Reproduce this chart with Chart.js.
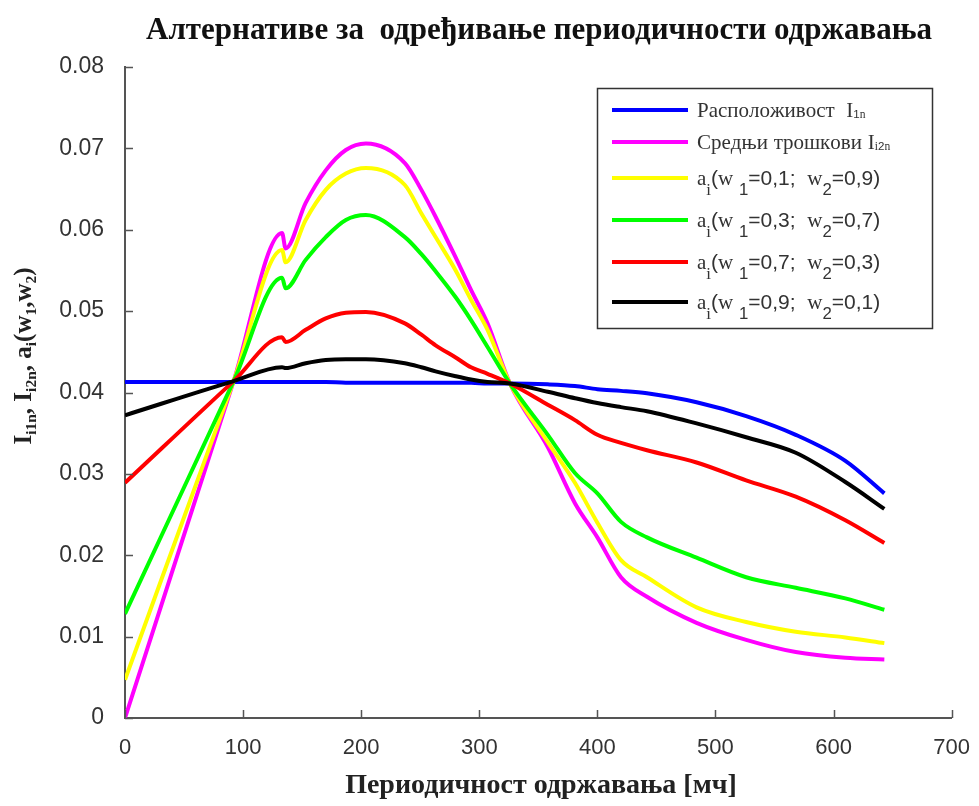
<!DOCTYPE html>
<html>
<head>
<meta charset="utf-8">
<script src="https://cdn.jsdelivr.net/npm/chart.js"></script>
<style>
  html, body { margin: 0; padding: 0; background: #fff; }
  #wrap { width: 979px; height: 806px; }
</style>
</head>
<body>
<div id="wrap"><canvas id="c" width="979" height="806"></canvas></div>
<script>
// периодичност одржавања [мч]
const periods = [0, 92, 133, 136, 153, 170, 187, 204, 237, 251, 263, 280, 293, 307, 326,
                 358, 381, 400, 420, 442, 484, 526, 568, 610, 643];

// расположивост I1n
const availability = [0.0413, 0.0413, 0.0413, 0.0413, 0.0413, 0.0413, 0.0412, 0.0412, 0.0412, 0.0412,
                      0.0412, 0.0412, 0.0412, 0.0411, 0.0411, 0.0410, 0.0408, 0.0404, 0.0402, 0.0399,
                      0.0388, 0.0371, 0.0348, 0.0316, 0.0276];
// средњи трошкови I2n
const avgCost = [0.0000, 0.0414, 0.0596, 0.0577, 0.0633, 0.0673, 0.0698, 0.0706, 0.0682, 0.0649,
                 0.0616, 0.0566, 0.0526, 0.0485, 0.0411, 0.0333, 0.0264, 0.0222, 0.0173, 0.0149,
                 0.0117, 0.0096, 0.0081, 0.0074, 0.0072];
// a_i за w1=0,1; w2=0,9
const a19 = [0.0047, 0.0414, 0.0575, 0.0560, 0.0612, 0.0649, 0.0669, 0.0676, 0.0655, 0.0620,
             0.0591, 0.0550, 0.0514, 0.0477, 0.0411, 0.0339, 0.0289, 0.0240, 0.0194, 0.0173,
             0.0136, 0.0118, 0.0106, 0.0099, 0.0092];
// a_i за w1=0,3; w2=0,7
const a37 = [0.0128, 0.0414, 0.0541, 0.0528, 0.0563, 0.0591, 0.0612, 0.0618, 0.0591, 0.0570,
             0.0549, 0.0517, 0.0489, 0.0456, 0.0411, 0.0348, 0.0301, 0.0276, 0.0241, 0.0222,
             0.0197, 0.0173, 0.0160, 0.0147, 0.0133];
// a_i за w1=0,7; w2=0,3
const a73 = [0.0289, 0.0414, 0.0468, 0.0462, 0.0477, 0.0491, 0.0498, 0.0499, 0.0485, 0.0471,
             0.0458, 0.0443, 0.0431, 0.0423, 0.0411, 0.0385, 0.0366, 0.0348, 0.0338, 0.0329,
             0.0314, 0.0292, 0.0272, 0.0243, 0.0215];
// a_i за w1=0,9; w2=0,1
const a91 = [0.0372, 0.0414, 0.0431, 0.0430, 0.0436, 0.0440, 0.0441, 0.0441, 0.0436, 0.0431,
             0.0426, 0.0420, 0.0416, 0.0413, 0.0411, 0.0401, 0.0393, 0.0387, 0.0382, 0.0377,
             0.0362, 0.0345, 0.0326, 0.0290, 0.0257];

const seriesLabels = [
  'Расположивост  I_{1n}',
  'Средњи трошкови I_{i2n}',
  'a_i(w _1=0,1;  w_2=0,9)',
  'a_i(w _1=0,3;  w_2=0,7)',
  'a_i(w _1=0,7;  w_2=0,3)',
  'a_i(w _1=0,9;  w_2=0,1)'
];
const seriesValues = [availability, avgCost, a19, a37, a73, a91];
const seriesColors = ['#0000ff', '#ff00ff', '#ffff00', '#00ff00', '#ff0000', '#000000'];

const xTicks = [0, 100, 200, 300, 400, 500, 600, 700];
const yTicks = [0, 0.01, 0.02, 0.03, 0.04, 0.05, 0.06, 0.07, 0.08];

const titleText = 'Алтернативе за  одређивање периодичности одржавања';
const xTitleText = 'Периодичност одржавања [мч]';
const yTitleText = 'I_{i1n}, I_{i2n}, a_i(w_1,w_2)';

const SERIF = '"Liberation Serif", "Times New Roman", serif';
const SANS = '"Liberation Sans", Arial, sans-serif';

// разбија текст на делове, "_x" или "_{xy}" је индекс
function parseRich(str) {
  const out = [];
  let i = 0;
  while (i < str.length) {
    if (str[i] === '_') {
      if (str[i + 1] === '{') {
        const j = str.indexOf('}', i);
        out.push({ t: str.slice(i + 2, j), sub: true });
        i = j + 1;
      } else {
        out.push({ t: str[i + 1], sub: true });
        i += 2;
      }
    } else {
      let j = i;
      while (j < str.length && str[j] !== '_') j++;
      out.push({ t: str.slice(i, j), sub: false });
      i = j;
    }
  }
  return out;
}

// црта (или само мери) текст са индексима
function richText(ctx, str, x, y, o, measureOnly) {
  let cx = x;
  parseRich(str).forEach(part => {
    const size = part.sub ? o.size * o.subScale : o.size;
    const dy = part.sub ? o.subDrop : 0;
    for (const ch of part.t) {
      const fam = o.family ? o.family : (/[A-Za-zА-Яа-яЀ-ӿ]/.test(ch) ? SERIF : SANS);
      ctx.font = (o.weight || '') + ' ' + size + 'px ' + fam;
      if (!measureOnly) ctx.fillText(ch, cx, y + dy);
      cx += ctx.measureText(ch).width;
    }
  });
  return cx - x;
}

const legendRows = [110, 142, 178, 220, 262, 302];
const legendSub = [
  { size: 21, subScale: 0.55, subDrop: 1 },
  { size: 21, subScale: 0.55, subDrop: 1 },
  { size: 21, subScale: 0.8, subDrop: 10 },
  { size: 21, subScale: 0.8, subDrop: 10 },
  { size: 21, subScale: 0.8, subDrop: 10 },
  { size: 21, subScale: 0.8, subDrop: 10 }
];

const decorPlugin = {
  id: 'decor',
  afterDraw(chart) {
    const ctx = chart.ctx;
    const xs = chart.scales.x, ys = chart.scales.y;
    const area = chart.chartArea;
    ctx.save();

    // унутрашње цртице на осама
    ctx.strokeStyle = '#555';
    ctx.lineWidth = 1.5;
    ctx.beginPath();
    xTicks.forEach(v => {
      const px = Math.round(xs.getPixelForValue(v)) + 0.5;
      ctx.moveTo(px, area.bottom);
      ctx.lineTo(px, area.bottom - 8);
    });
    yTicks.forEach(v => {
      const py = Math.round(ys.getPixelForValue(v)) + 0.5;
      ctx.moveTo(area.left, py);
      ctx.lineTo(area.left + 8, py);
    });
    ctx.stroke();

    // наслов
    ctx.fillStyle = '#111';
    ctx.textAlign = 'center';
    ctx.textBaseline = 'alphabetic';
    ctx.font = 'bold 31px ' + SERIF;
    ctx.fillText(titleText, 539, 39);

    // наслов x осе
    ctx.font = 'bold 28px ' + SERIF;
    ctx.fillStyle = '#222';
    ctx.fillText(xTitleText, 541, 793);

    // наслов y осе
    ctx.textAlign = 'left';
    const yo = { size: 25, subScale: 0.62, subDrop: 5, weight: 'bold', family: SERIF };
    const w = richText(ctx, yTitleText, 0, 0, yo, true);
    ctx.save();
    ctx.translate(31, 356 + w / 2);
    ctx.rotate(-Math.PI / 2);
    richText(ctx, yTitleText, 0, 0, yo, false);
    ctx.restore();

    // легенда
    ctx.fillStyle = '#fff';
    ctx.fillRect(597, 88, 335, 240);
    ctx.strokeStyle = '#333';
    ctx.lineWidth = 1.5;
    ctx.strokeRect(597.5, 88.5, 335, 240);
    seriesLabels.forEach((lab, i) => {
      const y = legendRows[i];
      ctx.strokeStyle = seriesColors[i];
      ctx.lineWidth = 4;
      ctx.beginPath();
      ctx.moveTo(612, y);
      ctx.lineTo(688, y);
      ctx.stroke();
      ctx.fillStyle = '#333';
      richText(ctx, lab, 697, y + 7, legendSub[i], false);
    });
    ctx.restore();
  }
};

const datasets = seriesValues.map((vals, i) => ({
  label: seriesLabels[i],
  data: periods.map((p, k) => ({ x: p, y: vals[k] })),
  borderColor: seriesColors[i],
  backgroundColor: seriesColors[i],
  borderWidth: 4,
  pointRadius: 0,
  fill: false,
  cubicInterpolationMode: 'monotone',
  order: seriesValues.length - i
}));

new Chart(document.getElementById('c'), {
  type: 'line',
  data: { datasets: datasets },
  options: {
    responsive: false,
    animation: false,
    devicePixelRatio: 1,
    layout: { padding: { top: 67, right: 23, left: 0, bottom: 0 } },
    plugins: {
      legend: { display: false },
      title: { display: false },
      tooltip: { enabled: false }
    },
    scales: {
      x: {
        type: 'linear',
        min: 0,
        max: 700,
        afterBuildTicks: s => { s.ticks = xTicks.map(v => ({ value: v })); },
        afterFit: s => { s.height = 88; },
        grid: { display: false },
        border: { display: true, color: '#555', width: 2 },
        ticks: {
          padding: 9,
          color: '#333',
          font: { family: SANS, size: 22 }
        }
      },
      y: {
        type: 'linear',
        min: 0,
        max: 0.08,
        afterBuildTicks: s => { s.ticks = yTicks.map(v => ({ value: v })); },
        afterFit: s => { s.width = 125; },
        grid: { display: false },
        border: { display: true, color: '#555', width: 2 },
        ticks: {
          padding: 13,
          color: '#333',
          font: { family: SANS, size: 23 },
          callback: v => v === 0 ? '0' : v.toFixed(2)
        }
      }
    }
  },
  plugins: [decorPlugin]
});
</script>
</body>
</html>
